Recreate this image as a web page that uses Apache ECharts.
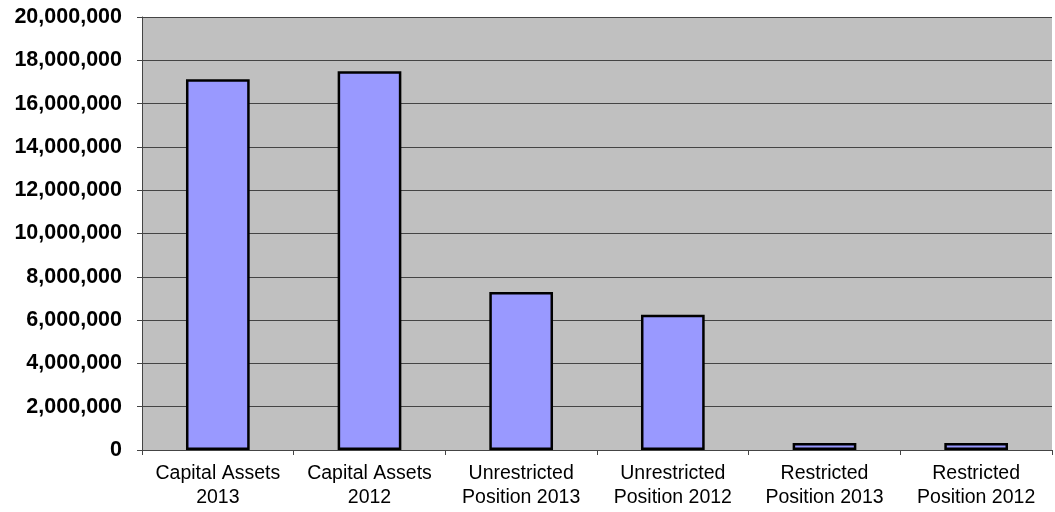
<!DOCTYPE html>
<html><head><meta charset="utf-8">
<script src="https://cdn.jsdelivr.net/npm/echarts@6/dist/echarts.min.js"></script>
<style>html,body{margin:0;padding:0;background:#fff}#c{width:1055px;height:512px}</style>
</head><body><div id="c"></div>
<script>
const categories = ["Capital Assets\n2013","Capital Assets\n2012","Unrestricted\nPosition 2013","Unrestricted\nPosition 2012","Restricted\nPosition 2013","Restricted\nPosition 2012"];
const values = [17120000, 17500000, 7300000, 6250000, 320000, 320000];
const yMin = 0, yMax = 20000000, yStep = 2000000;

const chart = echarts.init(document.getElementById('c'));
chart.setOption({
  animation: false,
  grid: {left: 142, right: 3, top: 17, bottom: 62, show: true, backgroundColor: '#C0C0C0', borderWidth: 0},
  xAxis: {
    type: 'category', data: categories,
    axisLine: {lineStyle: {color: '#444', width: 1}},
    axisTick: {show: true, alignWithLabel: false, length: 5, lineStyle: {color: '#444'}},
    axisLabel: {color: '#000', fontFamily: 'Liberation Sans, Arial', fontSize: 19.5, lineHeight: 24, margin: 12, interval: 0}
  },
  yAxis: {
    type: 'value', min: yMin, max: yMax, interval: yStep,
    axisLine: {show: true, lineStyle: {color: '#444', width: 1}},
    axisTick: {show: true, length: 5, lineStyle: {color: '#444'}},
    splitLine: {lineStyle: {color: '#444', width: 1}},
    axisLabel: {color: '#000', fontFamily: 'Liberation Sans, Arial', fontSize: 21.5, fontWeight: 'bold', margin: 20,
      formatter: v => v.toLocaleString('en-US')}
  },
  series: [{
    type: 'bar', data: values, barWidth: '42%',
    itemStyle: {color: '#9999FF', borderColor: '#000', borderWidth: 2.5}
  }]
});
</script></body></html>
